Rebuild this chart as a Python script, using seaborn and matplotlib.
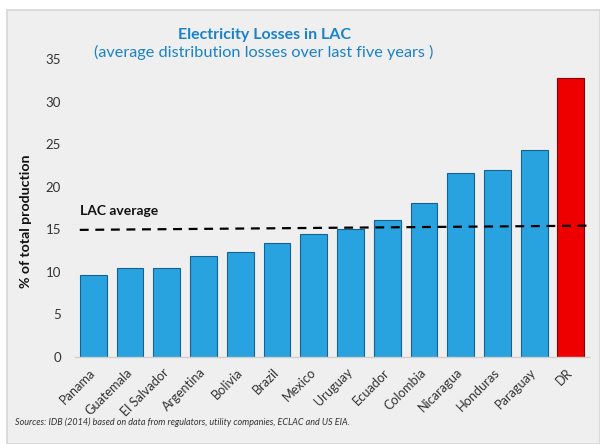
import matplotlib
matplotlib.use("Agg")

import matplotlib.pyplot as plt
from matplotlib.patches import Rectangle
import seaborn as sns
import pandas as pd

countries = ["Panama", "Guatemala", "El Salvador", "Argentina", "Bolivia", "Brazil",
             "Mexico", "Uruguay", "Ecuador", "Colombia", "Nicaragua", "Honduras",
             "Paraguay", "DR"]
losses = [9.6, 10.4, 10.4, 11.8, 12.3, 13.4, 14.4, 15.0, 16.1, 18.1, 21.6, 21.9, 24.3, 32.8]
highlight = ["DR"]
lac_avg = [14.9, 15.4]  # dashed line, left end and right end
yticks = [0, 5, 10, 15, 20, 25, 30, 35]

BLUE = "#29a3e0"
RED = "#ee0000"
TITLE_BLUE = "#1a82c8"

sns.set_style("white")
plt.rcParams["font.family"] = ["Lato", "DejaVu Sans"]

df = pd.DataFrame({"country": countries, "loss": losses})
palette = {c: (RED if c in highlight else BLUE) for c in countries}

fig = plt.figure(figsize=(6, 4.44), dpi=100, facecolor="white")
fig.patches.append(Rectangle((7 / 600, 0), 1 - 7 / 600, 1 - 10 / 444,
                             transform=fig.transFigure, facecolor="#efefef",
                             edgecolor="#d6d6d6", linewidth=1.2, zorder=-10))

ax = fig.add_axes([0.125, 0.197, 0.857, 0.670])
ax.set_facecolor("none")

sns.barplot(data=df, x="country", y="loss", hue="country", palette=palette,
            width=0.73, saturation=1, legend=False, ax=ax, zorder=2)
for bar, c in zip(ax.patches, countries):
    bar.set_edgecolor("#8b0000" if c in highlight else "#17618f")
    bar.set_linewidth(0.8)

# LAC average dashed line
ax.plot([-0.37, len(countries) - 0.45], lac_avg, color="black", linestyle=(0, (4, 3)),
        linewidth=1.6, zorder=3)
ax.text(-0.37, 16.4, "LAC average", fontsize=10, fontweight="bold", color="#111111",
        ha="left", va="bottom")

ax.set_xlim(-0.5, len(countries) - 0.5)
ax.set_ylim(0, 35)
ax.set_yticks(yticks)
ax.tick_params(axis="y", length=0, pad=10, labelsize=9.5, labelcolor="#333333")
ax.tick_params(axis="x", length=0, pad=10, labelsize=9.2, labelcolor="#333333")
plt.setp(ax.get_xticklabels(), rotation=45, ha="right", va="center",
         rotation_mode="anchor")

ax.set_xlabel("")
ax.set_ylabel("% of total production", fontsize=10.2, fontweight="bold", color="#111111")
ax.yaxis.set_label_coords(-0.084, 0.456)

for side in ["top", "right", "left"]:
    ax.spines[side].set_visible(False)
ax.spines["bottom"].set_color("#d0d0d0")
ax.spines["bottom"].set_linewidth(1)

fig.text(265 / 600, 1 - 35 / 444, "Electricity Losses in LAC", fontsize=11.5,
         fontweight="bold", color=TITLE_BLUE, ha="center", va="center")
fig.text(264 / 600, 1 - 52 / 444, "(average distribution losses over last five years )",
         fontsize=11.7, color=TITLE_BLUE, ha="center", va="center")
fig.text(15 / 600, 1 - 422 / 444,
         "Sources: IDB (2014) based on data from regulators, utility companies, ECLAC and US EIA.",
         fontsize=6.5, style="italic", color="#333333", ha="left", va="center")

fig.savefig("out.png", dpi=100, facecolor="white")
plt.close(fig)
